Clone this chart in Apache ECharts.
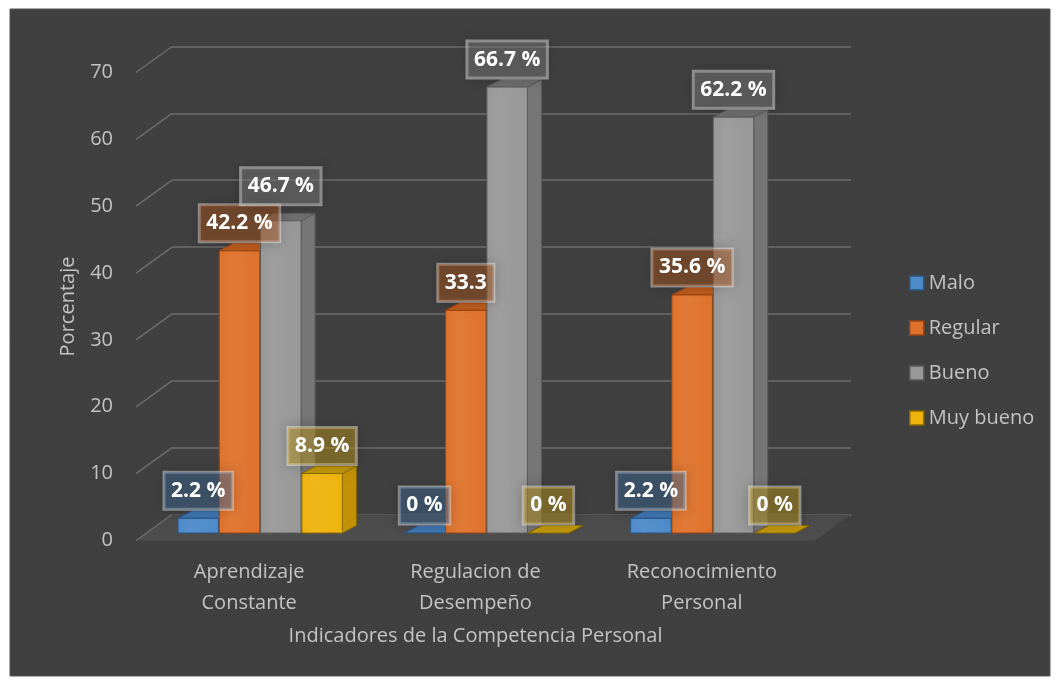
<!DOCTYPE html>
<html>
<head>
<meta charset="utf-8">
<script src="https://cdn.jsdelivr.net/npm/echarts@6/dist/echarts.min.js"></script>
<style>
  html, body { margin: 0; padding: 0; background: #ffffff; }
  #chart { width: 1057px; height: 684px; }
</style>
</head>
<body>
<div id="chart"></div>
<script>
// ---- data ----
const categories = ['Aprendizaje\nConstante', 'Regulacion de\nDesempeño', 'Reconocimiento\nPersonal'];
const seriesNames = ['Malo', 'Regular', 'Bueno', 'Muy bueno'];
const malo = [2.2, 0, 2.2];
const regular = [42.2, 33.3, 35.6];
const bueno = [46.7, 66.7, 62.2];
const muyBueno = [8.9, 0, 0];
const yTicks = [0, 10, 20, 30, 40, 50, 60, 70];
const xTitle = 'Indicadores de la Competencia Personal';
const yTitle = 'Porcentaje';
// value labels printed without the percent sign (series index, category index)
const plainLabels = [[1, 1]];

const seriesValues = [malo, regular, bueno, muyBueno];

// ---- look ----
const FONT = 'Open Sans';
const TEXT = '#c3c3c3';
const GRIDLINE = '#6c6c6c';
const palette = [
  { front: '#4d8bcb', side: '#3a6ca3', top: '#3f76b0', edge: '#2b5683', box: 'rgba(68,114,160,0.45)' },
  { front: '#e0722b', side: '#b3561b', top: '#bd5c1e', edge: '#9c4512', box: 'rgba(180,90,30,0.45)' },
  { front: '#989898', side: '#767676', top: '#6e6e6e', edge: '#5c5c5c', box: 'rgba(140,140,140,0.40)' },
  { front: '#efb30c', side: '#c29108', top: '#c4980c', edge: '#8a6a00', box: 'rgba(200,160,30,0.45)' }
];

// pseudo-3D geometry: depth of each box and where the front / back walls sit
// relative to the plane the bars stand on
const BAR_DX = 14, BAR_DY = -7.5;
const FRONT_DX = -11, FRONT_DY = 7.5;
const BACK_DX = 25, BACK_DY = -18.5;
const LABEL_RAISE = 27.5;

const PLANE_W = 679, PLANE_H = 468;

function isPlain(k, i) {
  return plainLabels.some(p => p[0] === k && p[1] === i);
}

function barRenderer(k) {
  return function (params, api) {
    const i = api.value(0), v = api.value(1);
    const base = api.coord([i, 0]);
    const top = api.coord([i, v]);
    const band = api.size([1, 0])[0];
    const cx = base[0] + (k - 1.5) * band * 0.1825;
    const w = band * 0.179;
    const x0 = cx - w / 2, x1 = cx + w / 2;
    const yT = top[1], yB = base[1];
    const c = palette[k];
    const edge = { stroke: c.edge, lineWidth: 1, lineJoin: 'round' };
    const children = [
      {
        type: 'polygon',
        shape: { points: [[x1, yT], [x1 + BAR_DX, yT + BAR_DY], [x1 + BAR_DX, yB + BAR_DY], [x1, yB]] },
        style: Object.assign({ fill: c.side }, edge)
      },
      {
        type: 'polygon',
        shape: { points: [[x0, yT], [x1, yT], [x1 + BAR_DX, yT + BAR_DY], [x0 + BAR_DX, yT + BAR_DY]] },
        style: Object.assign({ fill: c.top }, edge)
      }
    ];
    if (yB - yT > 0.5) {
      children.push({
        type: 'rect',
        shape: { x: x0, y: yT, width: w, height: yB - yT },
        style: Object.assign({
          fill: {
            type: 'linear', x: 0, y: 0, x2: 1, y2: 0,
            colorStops: [
              { offset: 0, color: c.front },
              { offset: 0.3, color: echarts.color.lift(c.front, 0.06) },
              { offset: 1, color: c.front }
            ]
          }
        }, edge)
      });
    }
    return { type: 'group', children: children };
  };
}

function labelRenderer(k) {
  return function (params, api) {
    const i = api.value(0), v = api.value(1);
    const base = api.coord([i, 0]);
    const top = api.coord([i, v]);
    const band = api.size([1, 0])[0];
    const cx = base[0] + (k - 1.5) * band * 0.1825;
    // the taller grey box of the first group is lifted clear of its neighbour's label
    const lift = (k === 2 && i === 0) ? 7 : 0;
    const txt = isPlain(k, i) ? String(v) : v + ' %';
    return {
      type: 'text',
      style: {
        text: txt,
        x: cx,
        y: top[1] - LABEL_RAISE - lift,
        align: 'center',
        verticalAlign: 'middle',
        fill: '#ffffff',
        fontFamily: FONT,
        fontWeight: 'bold',
        fontSize: 21,
        lineHeight: 22,
        padding: [8, 7, 7, 7],
        backgroundColor: palette[k].box,
        borderColor: 'rgba(255,255,255,0.45)',
        borderWidth: 1.5,
        shadowColor: 'rgba(0,0,0,0.35)',
        shadowBlur: 12
      }
    };
  };
}

// floor slab under the bars
function floorRenderer(params, api) {
  const cs = params.coordSys;
  const y0 = api.coord([0, 0])[1];
  const l = cs.x, r = cs.x + cs.width;
  return {
    type: 'polygon',
    shape: {
      points: [
        [l + FRONT_DX, y0 + FRONT_DY], [r + FRONT_DX, y0 + FRONT_DY],
        [r + BACK_DX, y0 + BACK_DY], [l + BACK_DX, y0 + BACK_DY]
      ]
    },
    style: {
      fill: { type: 'linear', x: 0, y: 0, x2: 0, y2: 1,
        colorStops: [{ offset: 0, color: '#4a4a4a' }, { offset: 1, color: '#4e4e4e' }] }
    }
  };
}

// slanted gridlines on the left wall, one per tick
function wallRenderer(params, api) {
  const cs = params.coordSys;
  const y = api.coord([0, api.value(1)])[1];
  return {
    type: 'line',
    shape: { x1: cs.x + FRONT_DX, y1: y + FRONT_DY, x2: cs.x + BACK_DX, y2: y + BACK_DY },
    style: { stroke: GRIDLINE, lineWidth: 1.5 }
  };
}

const valueAxisBase = { type: 'value', min: 0, max: 70, interval: 10 };

const series = [
  {
    type: 'custom', name: 'floor', xAxisIndex: 1, yAxisIndex: 1, z: 1, silent: true,
    renderItem: floorRenderer, data: [[0, 0]]
  },
  {
    type: 'custom', name: 'walls', xAxisIndex: 1, yAxisIndex: 1, z: 1, silent: true,
    renderItem: wallRenderer, data: yTicks.map(t => [0, t])
  }
];
seriesValues.forEach((vals, k) => {
  series.push({
    type: 'custom', name: seriesNames[k], xAxisIndex: 1, yAxisIndex: 1, z: 3,
    itemStyle: { color: palette[k].front, borderColor: palette[k].edge, borderWidth: 1.5 },
    renderItem: barRenderer(k), data: vals.map((v, i) => [i, v])
  });
});
seriesValues.forEach((vals, k) => {
  series.push({
    type: 'custom', name: seriesNames[k], xAxisIndex: 1, yAxisIndex: 1, z: 6,
    itemStyle: { color: palette[k].front },
    renderItem: labelRenderer(k), data: vals.map((v, i) => [i, v])
  });
});

const option = {
  backgroundColor: '#ffffff',
  animation: false,
  graphic: [{
    type: 'rect', z: -100, silent: true,
    shape: { x: 10, y: 9, width: 1040, height: 667 },
    style: { fill: '#404040', stroke: '#565656', lineWidth: 1 }
  }],
  textStyle: { fontFamily: FONT },
  legend: {
    orient: 'vertical', left: 904, top: 266,
    itemWidth: 14, itemHeight: 14, itemGap: 21,
    textStyle: { color: TEXT, fontSize: 20, fontFamily: FONT, lineHeight: 24 },
    data: seriesNames.map((n, k) => ({
      name: n, icon: 'rect',
      itemStyle: { color: palette[k].front, borderColor: palette[k].edge, borderWidth: 1.5 }
    }))
  },
  grid: [
    { left: 136, top: 72.5, width: PLANE_W, height: PLANE_H },   // front plane
    { left: 147, top: 65, width: PLANE_W, height: PLANE_H },     // bar plane
    { left: 172, top: 46.5, width: PLANE_W, height: PLANE_H }    // back wall
  ],
  xAxis: [
    {
      gridIndex: 0, type: 'category', data: categories,
      axisLine: { show: false }, axisTick: { show: false },
      axisLabel: { color: TEXT, fontSize: 20, fontFamily: FONT, lineHeight: 31, margin: 16, interval: 0 },
      name: xTitle, nameLocation: 'middle', nameGap: 86,
      nameTextStyle: { color: TEXT, fontSize: 20, fontFamily: FONT }
    },
    { gridIndex: 1, type: 'category', data: categories, show: false },
    { gridIndex: 2, type: 'category', data: categories, show: false }
  ],
  yAxis: [
    Object.assign({}, valueAxisBase, {
      gridIndex: 0,
      axisLine: { show: false }, axisTick: { show: false }, splitLine: { show: false },
      axisLabel: { color: TEXT, fontSize: 20, fontFamily: FONT, margin: 23 },
      name: yTitle, nameLocation: 'middle', nameGap: 58,
      nameTextStyle: { color: TEXT, fontSize: 20, fontFamily: FONT }
    }),
    Object.assign({}, valueAxisBase, { gridIndex: 1, show: false }),
    Object.assign({}, valueAxisBase, {
      gridIndex: 2,
      axisLine: { show: false }, axisTick: { show: false }, axisLabel: { show: false },
      splitLine: { show: true, lineStyle: { color: GRIDLINE, width: 1.5 } }
    })
  ],
  series: series
};

const chart = echarts.init(document.getElementById('chart'), null, { renderer: 'canvas' });
chart.setOption(option);
</script>
</body>
</html>
